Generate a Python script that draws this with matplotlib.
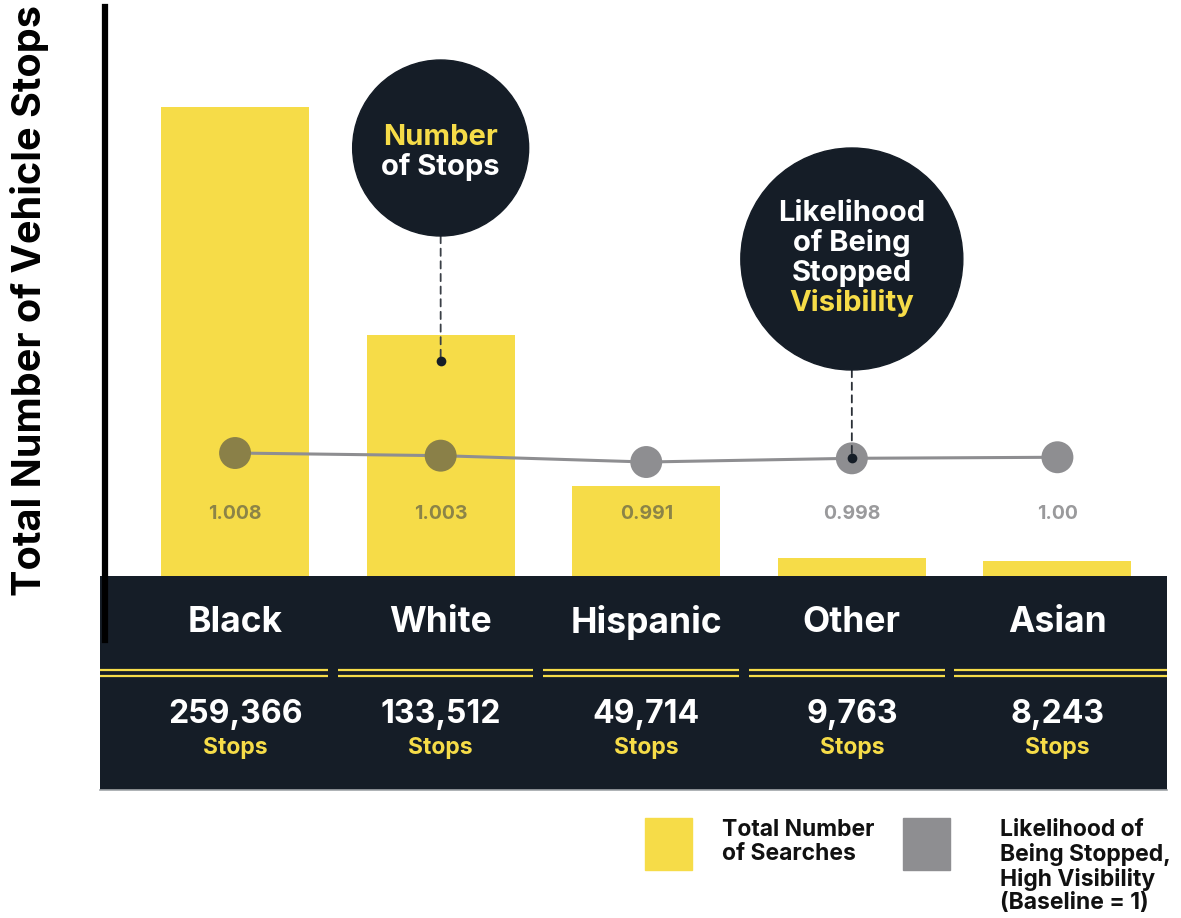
import matplotlib
matplotlib.use("Agg")
import matplotlib.pyplot as plt
import matplotlib.transforms as mtransforms
from matplotlib.patches import Circle, Rectangle
from matplotlib.lines import Line2D

# ==========================================
# 1. DATA
# ==========================================
categories = ["Black", "White", "Hispanic", "Other", "Asian"]
stops = [259366, 133512, 49714, 9763, 8243]
likelihood = [1.008, 1.003, 0.991, 0.998, 1.00]
likelihood_labels = ["1.008", "1.003", "0.991", "0.998", "1.00"]

# ==========================================
# 2. STYLE
# ==========================================
YELLOW = "#f6dc48"
DARK = "#151d27"
GRAY = "#8e8e91"
OLIVE = "#8a8048"
LABEL_GRAY = "#9a9a9c"
LABEL_OLIVE = "#8c8447"

plt.rcParams["font.family"] = ["Inter", "DejaVu Sans"]
plt.rcParams["font.weight"] = "bold"

W, H, DPI = 1181, 918, 100
fig = plt.figure(figsize=(W / DPI, H / DPI), dpi=DPI)


def fx(px):
    return px / W


def fy(py):
    return 1 - py / H


x = list(range(len(categories)))
xlim = (-0.657, 4.533)

# main bar axes
ax = fig.add_axes([fx(100), fy(576), fx(1067), 569 / H])
ax.set_xlim(*xlim)
ymax = 314670
ax.set_ylim(0, ymax)
ax.axis("off")
ax.bar(x, stops, width=0.72, color=YELLOW, zorder=1)

# likelihood line on a twin axis
ax2 = ax.twinx()
lo, hi = 0.7757, 1.8505
ax2.set_ylim(lo, hi)
ax2.axis("off")
ax2.plot(x, likelihood, color=GRAY, lw=2.2, zorder=2)

label_frac = 62 / 569   # value labels sit at a fixed height above the baseline
marker_cols, label_cols = [], []
for s, l in zip(stops, likelihood):
    bar_frac = s / ymax
    m_frac = (l - lo) / (hi - lo)
    marker_cols.append(OLIVE if m_frac < bar_frac else GRAY)
    label_cols.append(LABEL_OLIVE if label_frac < bar_frac else LABEL_GRAY)

ax2.scatter(x, likelihood, s=23 ** 2, c=marker_cols, zorder=3, linewidths=0)
blend = mtransforms.blended_transform_factory(ax2.transData, ax2.transAxes)
for xi, lab, col in zip(x, likelihood_labels, label_cols):
    ax2.text(xi, label_frac, lab, transform=blend, ha="center", va="center",
             fontsize=14, color=col, fontweight="bold")

# dark category band
axb = fig.add_axes([fx(100), fy(790), fx(1067), 214 / H], sharex=ax)
axb.set_facecolor(DARK)
axb.set_ylim(0, 214)
axb.tick_params(left=False, bottom=False, labelleft=False, labelbottom=False)
for sp in ["top", "left", "right"]:
    axb.spines[sp].set_visible(False)
axb.spines["bottom"].set_color("#a0a4a8")
axb.spines["bottom"].set_linewidth(1.2)

bounds = [xlim[0]] + [i + 0.475 for i in range(len(categories) - 1)] + [xlim[1]]
gap = 0.024
for i in range(len(categories)):
    x0 = bounds[i] + (gap if i > 0 else 0)
    x1 = bounds[i + 1] - (gap if i < len(categories) - 1 else 0)
    axb.hlines([120, 114], x0, x1, color=YELLOW, lw=1.6)

for xi, cat, s in zip(x, categories, stops):
    axb.text(xi, 167, cat, ha="center", va="center", color="white",
             fontsize=25.5, fontweight="bold")
    axb.text(xi, 75, f"{s:,}", ha="center", va="center", color="white",
             fontsize=23, fontweight="bold")
    axb.text(xi, 42, "Stops", ha="center", va="center", color=YELLOW,
             fontsize=16.5, fontweight="bold")

# vertical axis line
fig.add_artist(Line2D([fx(105), fx(105)], [fy(7), fy(640)], color="black",
                      lw=4.5, transform=fig.transFigure, zorder=10))

# y label
fig.text(fx(30), fy(300), "Total Number of Vehicle Stops", rotation=90,
         ha="center", va="center", fontsize=28.5, fontweight="bold", color="black")

# ==========================================
# 3. CALLOUT CIRCLES
# ==========================================
fig.canvas.draw()
cx1 = ax.transData.transform((1, 0))[0]
cx3 = ax.transData.transform((3, 0))[0]

# "Number of Stops"
c1y, r1 = 148, 88
fig.add_artist(Circle((cx1 / DPI, (H - c1y) / DPI), r1 / DPI, color=DARK,
                      transform=fig.dpi_scale_trans, zorder=5))
fig.text(cx1 / W, fy(145), "Number", ha="center", va="baseline", color=YELLOW,
         fontsize=21, fontweight="bold", zorder=6)
fig.text(cx1 / W, fy(175), "of Stops", ha="center", va="baseline", color="white",
         fontsize=21, fontweight="bold", zorder=6)
dot_y = stops[1] * 0.89
ax.annotate("", xy=(1, dot_y), xycoords="data",
            xytext=(cx1 / DPI, (H - c1y - r1) / DPI), textcoords=fig.dpi_scale_trans,
            arrowprops=dict(arrowstyle="-", linestyle=(0, (4, 3)), color="#3a3f46",
                            lw=1.3, shrinkA=0, shrinkB=0), zorder=4)
ax.scatter([1], [dot_y], s=7 ** 2, color=DARK, zorder=4, linewidths=0)

# "Likelihood of Being Stopped Visibility"
c2y, r2 = 259, 111
fig.add_artist(Circle((cx3 / DPI, (H - c2y) / DPI), r2 / DPI, color=DARK,
                      transform=fig.dpi_scale_trans, zorder=5))
for txt, base, col in [("Likelihood", 221, "white"), ("of Being", 251, "white"),
                       ("Stopped", 281, "white"), ("Visibility", 311, YELLOW)]:
    fig.text(cx3 / W, fy(base), txt, ha="center", va="baseline", color=col,
             fontsize=21, fontweight="bold", zorder=6)
ax2.annotate("", xy=(3, likelihood[3]), xycoords="data",
             xytext=(cx3 / DPI, (H - c2y - r2) / DPI), textcoords=fig.dpi_scale_trans,
             arrowprops=dict(arrowstyle="-", linestyle=(0, (4, 3)), color="#2a2f36",
                             lw=1.3, shrinkA=0, shrinkB=0), zorder=4)
ax2.scatter([3], [likelihood[3]], s=7 ** 2, color=DARK, zorder=4, linewidths=0)

# ==========================================
# 4. LEGEND
# ==========================================
fig.add_artist(Rectangle((fx(645), fy(870)), fx(47), 52 / H, color=YELLOW,
                         transform=fig.transFigure))
fig.text(fx(722), fy(819), "Total Number\nof Searches", ha="left", va="top",
         fontsize=16.5, fontweight="bold", color="#111111", linespacing=1.1)
fig.add_artist(Rectangle((fx(903), fy(870)), fx(47), 52 / H, color=GRAY,
                         transform=fig.transFigure))
fig.text(fx(1000), fy(819), "Likelihood of\nBeing Stopped,\nHigh Visibility\n(Baseline = 1)",
         ha="left", va="top", fontsize=16.5, fontweight="bold", color="#111111",
         linespacing=1.1)

fig.savefig("out.png", dpi=DPI, facecolor="white")
